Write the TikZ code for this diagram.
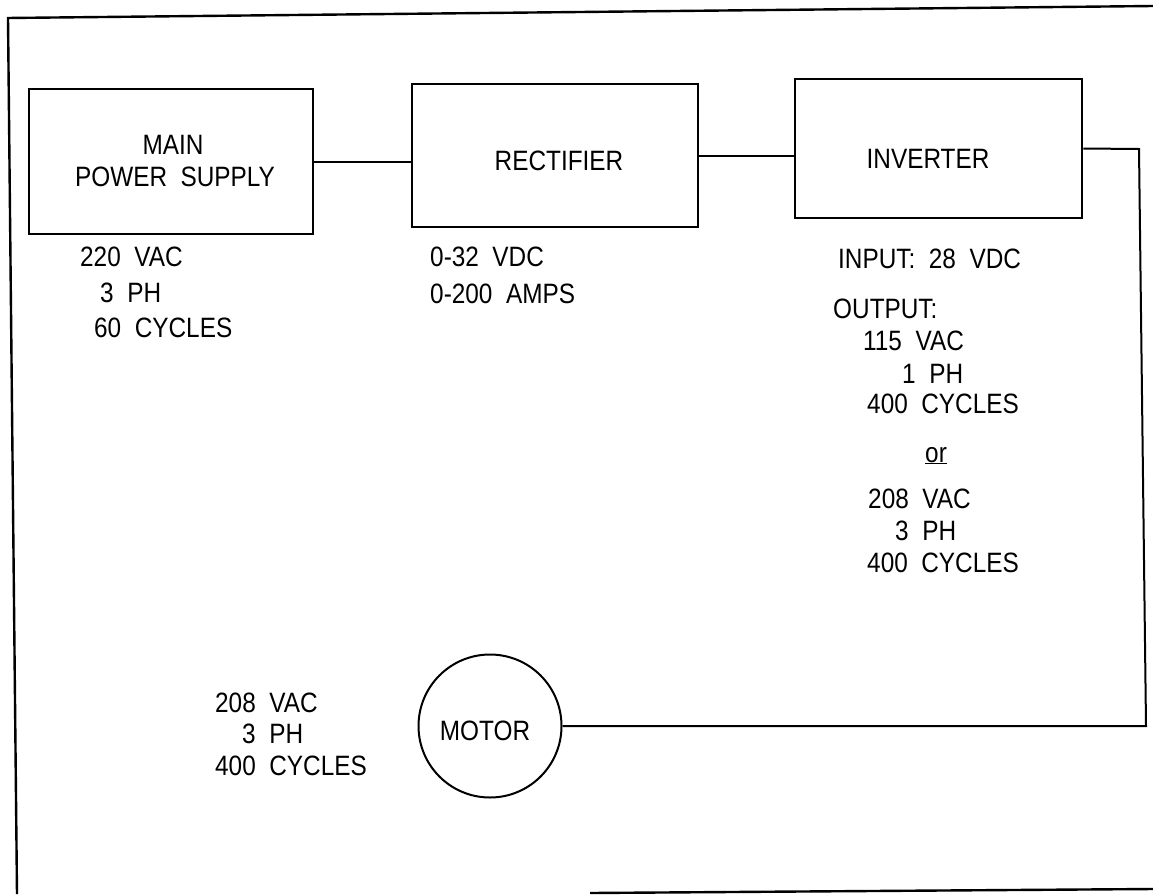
\documentclass[tikz,border=0pt]{standalone}
\usepackage{fontspec}
\setmainfont{Liberation Sans}[FakeStretch=0.87,WordSpace=2]
\begin{document}
\begin{tikzpicture}[x=1pt,y=-1pt,
  frame/.style={line width=2.4pt},
  wire/.style={line width=2pt},
  blk/.style={draw,line width=2.6pt,inner sep=0pt},
  motorc/.style={draw,circle,line width=2pt,minimum size=143pt,inner sep=0pt},
  txt/.style={inner sep=0pt,text height=20pt,text depth=0pt,font=\fontsize{28}{32}\selectfont},
  lab/.style={txt,anchor=west}]
\useasboundingbox (0,0) rectangle (1153,894);
% page frame
\draw[frame] (7,18) -- (1153,6);
\draw[frame] (8,18) -- (17,894);
\draw[frame] (590,893) -- (1153,889);
% blocks
\node[blk,minimum width=284pt,minimum height=145pt] (mps) at (171,161.5) {};
\node[blk,minimum width=286pt,minimum height=143pt] (rect) at (555,155.5) {};
\node[blk,minimum width=287pt,minimum height=139pt] (inv) at (938.5,148.5) {};
\node[motorc] (motor) at (490,726) {};
% block texts
\node[txt] (t1) at (173,144) {MAIN};
\node[txt] (t2) at (175,176) {POWER SUPPLY};
\node[txt] (t3) at (559,160) {RECTIFIER};
\node[txt] (t4) at (928,158) {INVERTER};
\node[txt] (t5) at (485,730) {MOTOR};
% connectors
\coordinate (c1) at (1139,149);
\coordinate (c2) at (1146,726);
\draw[wire] (mps.east) -- (mps.east -| rect.west);
\draw[wire] (rect.east) -- (rect.east -| inv.west);
\draw[wire] (inv.east) -- (c1) -- (c2) -- (motor.east);
% supply labels
\node[lab] (a1) at (80,256) {220 VAC};
\node[lab] (a2) at (100,292) {3 PH};
\node[lab] (a3) at (94,327) {60 CYCLES};
% rectifier labels
\node[lab] (b1) at (430,256) {0-32 VDC};
\node[lab] (b2) at (430,293) {0-200 AMPS};
% inverter labels
\node[lab] (d1) at (838,258) {INPUT: 28 VDC};
\node[lab] (d2) at (833,308) {OUTPUT:};
\node[lab] (d3) at (863,340) {115 VAC};
\node[lab] (d4) at (902,373) {1 PH};
\node[lab] (d5) at (867,403) {400 CYCLES};
\node[lab] (d6) at (925,452) {\underline{or}};
\node[lab] (d7) at (868,498) {208 VAC};
\node[lab] (d8) at (895,530) {3 PH};
\node[lab] (d9) at (867,562) {400 CYCLES};
% motor labels
\node[lab] (m1) at (215,702) {208 VAC};
\node[lab] (m2) at (242,733) {3 PH};
\node[lab] (m3) at (215,765) {400 CYCLES};
\end{tikzpicture}
\end{document}
